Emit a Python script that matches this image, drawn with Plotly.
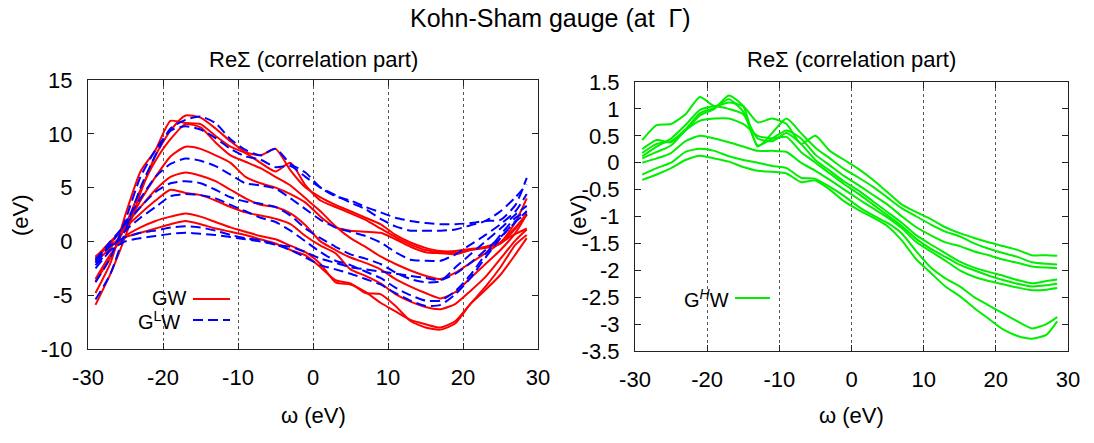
import plotly.graph_objects as go

omega = [-29, -27, -25, -23, -21, -19, -17, -15, -13, -11, -9, -7, -5, -3, -1,
         1, 3, 5, 7, 9, 11, 13, 15, 17, 19, 21, 23, 25, 27, 28.5]

# GW (red, solid)
gw_1 = [-5.9, -3.0, 0.5, 4.5, 8.0, 10.3, 11.7, 11.5, 10.5, 9.3, 8.3, 8.0, 8.6, 6.6, 5.0, 4.1, 3.4, 2.8, 2.2, 1.6, 0.6, -0.1, -0.6, -0.9, -0.9, -0.7, -0.6, -0.1, 1.8, 4.0]
gw_2 = [-4.8, -2.0, 2.5, 6.5, 8.5, 11.2, 11.0, 10.9, 9.8, 8.8, 8.2, 7.3, 6.5, 7.3, 5.2, 3.8, 3.2, 2.6, 2.0, 1.2, 0.4, -0.3, -0.8, -1.0, -1.05, -0.8, -0.6, -0.2, 1.2, 2.6]
gw_3 = [-3.7, -1.5, 1.5, 4.8, 7.5, 9.5, 10.9, 10.6, 9.2, 8.0, 7.4, 6.8, 6.0, 5.2, 4.0, 2.8, 1.4, 0.3, -0.5, -1.4, -2.1, -2.7, -3.2, -3.5, -2.9, -2.0, -1.1, -0.1, 1.3, 2.5]
gw_4 = [-1.9, -0.6, 1.2, 3.8, 6.0, 7.9, 8.8, 8.6, 8.0, 7.3, 6.0, 5.4, 5.0, 4.4, 3.6, 2.3, 1.3, 1.0, 0.9, 0.8, 0.2, -0.5, -1.0, -1.1, -1.2, -0.8, -0.5, -0.1, 0.7, 1.2]
gw_5 = [-1.6, -0.2, 1.5, 3.2, 4.8, 6.0, 6.4, 6.1, 5.6, 4.8, 4.0, 3.4, 3.2, 2.6, 1.5, 0.0, -0.8, -1.5, -2.0, -2.6, -3.5, -4.2, -4.8, -5.3, -4.7, -3.4, -2.1, -0.8, 0.8, 2.5]
gw_6 = [-1.5, 0.0, 1.3, 2.6, 3.8, 4.8, 4.5, 4.3, 3.8, 3.2, 2.7, 2.4, 2.1, 1.6, 0.5, -0.4, -1.1, -2.6, -3.2, -3.9, -4.9, -5.6, -6.1, -6.3, -5.8, -4.6, -3.3, -1.6, 0.1, 1.1]
gw_7 = [-3.5, -1.2, 0.5, 1.3, 1.9, 2.3, 2.6, 2.3, 1.8, 1.3, 0.9, 0.5, 0.2, -0.4, -1.0, -2.1, -3.8, -4.0, -4.7, -5.7, -6.5, -7.3, -7.7, -8.0, -7.4, -5.8, -4.2, -2.4, -0.3, 0.6]
gw_8 = [-1.4, -0.3, 0.4, 0.8, 1.2, 1.6, 1.9, 1.6, 1.2, 0.9, 0.6, 0.2, -0.2, -0.8, -1.3, -2.4, -3.6, -3.9, -4.8, -4.9, -6.0, -7.4, -8.0, -8.2, -7.6, -5.8, -4.5, -3.1, -1.2, 0.3]

# G^L W (blue, dashed)
glw_1 = [-5.4, -3.0, 1.0, 5.0, 8.0, 10.5, 11.3, 11.6, 11.0, 9.5, 8.5, 8.0, 8.6, 7.2, 6.4, 5.0, 4.2, 3.8, 3.2, 2.7, 2.2, 1.9, 1.7, 1.6, 1.6, 1.7, 1.9, 2.0, 3.4, 5.9]
glw_2 = [-3.8, -1.5, 2.0, 6.0, 8.5, 10.3, 10.7, 10.4, 9.6, 8.6, 7.9, 7.6, 6.9, 7.0, 6.0, 5.0, 4.3, 3.6, 3.0, 2.1, 1.4, 1.0, 1.0, 1.0, 1.1, 1.5, 1.9, 2.8, 4.1, 5.3]
glw_3 = [-2.0, -0.3, 1.8, 4.0, 6.0, 7.2, 7.7, 7.5, 7.0, 6.2, 5.4, 5.2, 4.9, 4.0, 3.0, 2.0, 1.3, 0.9, 0.5, -0.1, -1.0, -1.7, -1.8, -1.8, -1.2, -0.3, 0.6, 1.6, 2.8, 4.4]
glw_4 = [-1.7, 0.0, 1.6, 3.2, 4.6, 5.4, 5.6, 5.4, 4.8, 4.1, 3.7, 3.5, 3.2, 2.4, 1.2, 0.3, -0.5, -1.2, -1.6, -2.1, -2.9, -3.5, -3.8, -3.7, -2.4, -1.2, 0.0, 1.2, 2.5, 3.3]
glw_5 = [-2.5, -0.8, 1.0, 2.2, 3.2, 4.2, 4.4, 4.3, 4.0, 3.4, 2.8, 2.2, 1.8, 1.0, 0.0, -1.0, -1.8, -2.2, -2.8, -3.4, -4.3, -5.0, -5.5, -5.5, -4.6, -3.1, -1.2, 0.6, 2.2, 2.8]
glw_6 = [-1.8, -0.4, 0.4, 0.8, 1.0, 1.3, 1.4, 1.3, 1.0, 0.6, 0.3, 0.1, -0.3, -0.8, -1.5, -2.2, -2.6, -3.0, -3.5, -4.0, -4.8, -5.5, -6.0, -5.9, -4.9, -3.4, -1.5, 0.3, 1.9, 2.5]
glw_7 = [-2.2, -0.8, 0.0, 0.3, 0.5, 0.7, 0.8, 0.7, 0.6, 0.4, 0.2, 0.0, -0.3, -0.5, -1.0, -1.6, -2.0, -2.4, -2.6, -2.8, -3.0, -3.2, -3.4, -3.6, -3.0, -2.0, -0.8, 0.4, 1.8, 2.8]

# G^H W (green, solid)
ghw_1 = [0.42, 0.70, 0.72, 0.90, 1.22, 1.05, 1.12, 1.05, 0.75, 0.82, 0.72, 0.35, 0.50, 0.22, 0.05, -0.12, -0.32, -0.55, -0.78, -0.92, -1.05, -1.2, -1.31, -1.40, -1.48, -1.55, -1.62, -1.72, -1.72, -1.73]
ghw_2 = [0.25, 0.42, 0.38, 0.60, 0.88, 1.0, 1.25, 1.05, 0.30, 0.55, 0.82, 0.55, 0.28, 0.08, -0.12, -0.28, -0.45, -0.65, -0.85, -1.0, -1.15, -1.28, -1.37, -1.50, -1.60, -1.68, -1.75, -1.85, -1.88, -1.89]
ghw_3 = [0.18, 0.35, 0.40, 0.62, 0.92, 1.02, 1.18, 0.95, 0.32, 0.45, 0.60, 0.45, 0.15, -0.05, -0.25, -0.42, -0.6, -0.78, -1.0, -1.2, -1.35, -1.48, -1.55, -1.65, -1.72, -1.80, -1.86, -1.93, -1.95, -1.96]
ghw_4 = [0.12, 0.30, 0.45, 0.70, 0.98, 1.05, 1.0, 0.90, 0.45, 0.40, 0.55, 0.35, 0.05, -0.15, -0.35, -0.52, -0.72, -0.92, -1.12, -1.35, -1.52, -1.68, -1.84, -1.95, -2.03, -2.1, -2.18, -2.24, -2.2, -2.17]
ghw_5 = [0.08, 0.20, 0.32, 0.60, 0.78, 0.82, 0.82, 0.72, 0.50, 0.45, 0.48, 0.20, 0.00, -0.2, -0.40, -0.58, -0.78, -0.98, -1.18, -1.42, -1.60, -1.75, -1.90, -2.0, -2.1, -2.18, -2.25, -2.3, -2.28, -2.25]
ghw_6 = [0.0, 0.08, 0.18, 0.40, 0.50, 0.45, 0.38, 0.30, 0.22, 0.22, 0.20, 0.0, -0.15, -0.32, -0.50, -0.68, -0.85, -1.02, -1.22, -1.48, -1.65, -1.82, -2.0, -2.12, -2.2, -2.26, -2.32, -2.37, -2.36, -2.33]
ghw_7 = [-0.22, -0.10, 0.0, 0.20, 0.26, 0.22, 0.12, 0.05, 0.0, -0.06, -0.10, -0.28, -0.30, -0.45, -0.62, -0.82, -0.98, -1.12, -1.32, -1.65, -1.95, -2.15, -2.3, -2.5, -2.65, -2.8, -2.95, -3.08, -3.0, -2.87]
ghw_8 = [-0.32, -0.22, -0.10, 0.05, 0.13, 0.08, 0.02, -0.08, -0.15, -0.17, -0.20, -0.36, -0.33, -0.50, -0.72, -0.88, -1.02, -1.18, -1.45, -1.80, -2.05, -2.3, -2.48, -2.7, -2.9, -3.1, -3.22, -3.27, -3.2, -2.95]

x_ticks = [-30, -20, -10, 0, 10, 20, 30]
y1_ticks = [-10, -5, 0, 5, 10, 15]
y2_ticks = [-3.5, -3, -2.5, -2, -1.5, -1, -0.5, 0, 0.5, 1, 1.5]
y2_labels = ["-3.5", "-3", "-2.5", "-2", "-1.5", "-1", "-0.5", "0", "0.5", "1", "1.5"]

RED = "#ff0000"
BLUE = "#0000ff"
GREEN = "#00ee00"
FONT = "Liberation Sans"

fig = go.Figure()
for ys in [gw_1, gw_2, gw_3, gw_4, gw_5, gw_6, gw_7, gw_8]:
    fig.add_trace(go.Scatter(x=omega, y=ys, mode="lines", xaxis="x", yaxis="y",
                             line=dict(color=RED, width=2, shape="spline", smoothing=0.6),
                             showlegend=False, hoverinfo="skip"))
for ys in [glw_1, glw_2, glw_3, glw_4, glw_5, glw_6, glw_7]:
    fig.add_trace(go.Scatter(x=omega, y=ys, mode="lines", xaxis="x", yaxis="y",
                             line=dict(color=BLUE, width=2, dash="10px,5px", shape="spline", smoothing=0.6),
                             showlegend=False, hoverinfo="skip"))
for ys in [ghw_1, ghw_2, ghw_3, ghw_4, ghw_5, ghw_6, ghw_7, ghw_8]:
    fig.add_trace(go.Scatter(x=omega, y=ys, mode="lines", xaxis="x2", yaxis="y2",
                             line=dict(color=GREEN, width=2, shape="spline", smoothing=0.6),
                             showlegend=False, hoverinfo="skip"))

W, H = 1094, 443
def px(x):
    return x / W
def py(y):
    return 1 - y / H

common_x = dict(range=[-30, 30], tickvals=x_ticks, ticktext=[str(v) for v in x_ticks],
                ticks="inside", ticklen=6, tickcolor="#222", mirror="allticks",
                showline=True, linecolor="#222", linewidth=1.2,
                showgrid=True, gridcolor="#555", griddash="dot", gridwidth=1,
                zeroline=False, tickfont=dict(family=FONT, size=22, color="black"),
                ticklabelstandoff=8, automargin=False)
common_y = dict(ticks="inside", ticklen=6, tickcolor="#222", mirror="allticks",
                showline=True, linecolor="#222", linewidth=1.2, showgrid=False,
                zeroline=False, tickfont=dict(family=FONT, size=22, color="black"),
                ticklabelstandoff=10, automargin=False)

fig.update_layout(
    width=W, height=H, autosize=False,
    margin=dict(l=0, r=0, t=0, b=0, pad=0, autoexpand=False),
    paper_bgcolor="white", plot_bgcolor="white",
    showlegend=False,
    xaxis=dict(domain=[px(88), px(538)], anchor="y", **common_x),
    yaxis=dict(domain=[py(349), py(80)], anchor="x", range=[-10, 15],
               tickvals=y1_ticks, ticktext=[str(v) for v in y1_ticks], **common_y),
    xaxis2=dict(domain=[px(635), px(1068)], anchor="y2", **common_x),
    yaxis2=dict(domain=[py(351), py(82)], anchor="x2", range=[-3.5, 1.5],
                tickvals=y2_ticks, ticktext=y2_labels, **common_y),
)

def ann(text, x, y, size, xanchor="center", angle=0):
    fig.add_annotation(text=text, x=x, y=y, xref="paper", yref="paper",
                       xanchor=xanchor, yanchor="middle", showarrow=False,
                       textangle=angle, font=dict(family=FONT, size=size, color="black"))

ann("Kohn-Sham gauge (at  Γ)", px(550), py(18), 25)
ann("ReΣ (correlation part)", px(313), py(60), 22)
ann("ReΣ (correlation part)", px(851), py(60), 22)
ann("ω (eV)", px(313), py(415), 22)
ann("ω (eV)", px(851), py(415), 22)
ann("(eV)", px(20), py(215), 22, angle=-90)
ann("(eV)", px(578), py(215), 22, angle=-90)

# legend entries
ann("GW", px(189), py(298), 20, xanchor="right")
ann("G<sup>L</sup>W", px(182), py(320), 20, xanchor="right")
ann("G<sup><i>H</i></sup>W", px(731), py(298), 20, xanchor="right")
fig.add_shape(type="line", xref="paper", yref="paper", x0=px(193), x1=px(230), y0=py(299), y1=py(299),
              line=dict(color=RED, width=2))
fig.add_shape(type="line", xref="paper", yref="paper", x0=px(193), x1=px(230), y0=py(320), y1=py(320),
              line=dict(color=BLUE, width=2, dash="10px,5px"))
fig.add_shape(type="line", xref="paper", yref="paper", x0=px(735), x1=px(770), y0=py(298), y1=py(298),
              line=dict(color=GREEN, width=2))

fig.write_html("out.html")
